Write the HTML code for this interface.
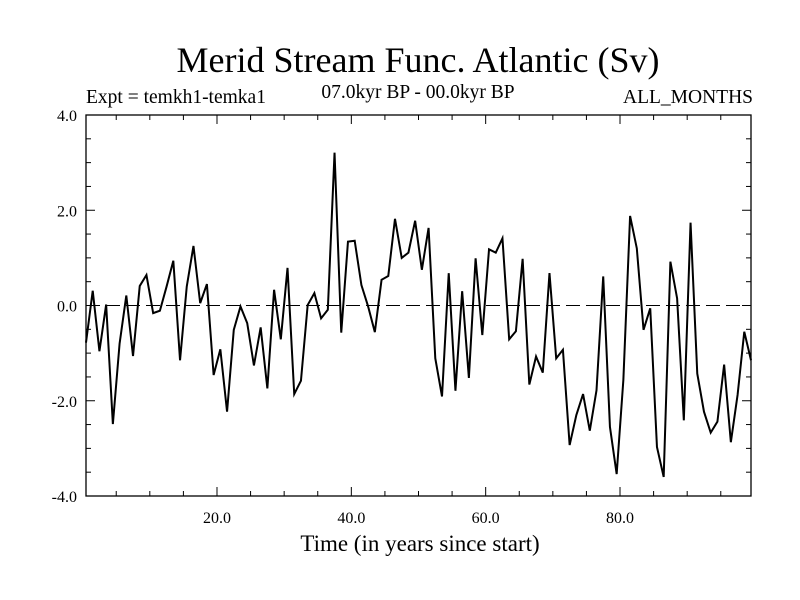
<!DOCTYPE html>
<html><head><meta charset="utf-8"><style>
body{margin:0;background:#fff}
svg{display:block}
text{font-family:"Liberation Serif",serif;fill:#000}
</style></head><body>
<svg id="chart" width="800" height="600" xmlns="http://www.w3.org/2000/svg">
<text x="418" y="72" font-size="36" text-anchor="middle">Merid Stream Func. Atlantic (Sv)</text>
<text x="86" y="103" font-size="19.5">Expt = temkh1-temka1</text>
<text x="418" y="98" font-size="19.5" text-anchor="middle">07.0kyr BP - 00.0kyr BP</text>
<text x="753" y="103" font-size="19.5" text-anchor="end">ALL_MONTHS</text>
<text x="420" y="551" font-size="23" text-anchor="middle">Time (in years since start)</text>
<g id="axes"></g>
<g id="plot"></g>
</svg>
<script>
const values=[-0.78,0.31,-0.96,0.02,-2.49,-0.80,0.21,-1.06,0.41,0.64,-0.16,-0.11,0.40,0.94,-1.15,0.40,1.25,0.05,0.45,-1.46,-0.92,-2.23,-0.51,-0.02,-0.37,-1.26,-0.46,-1.74,0.33,-0.71,0.79,-1.86,-1.58,0.01,0.26,-0.27,-0.09,3.21,-0.57,1.34,1.36,0.43,-0.02,-0.56,0.54,0.62,1.82,1.00,1.11,1.78,0.75,1.63,-1.11,-1.91,0.68,-1.79,0.30,-1.52,0.99,-0.62,1.18,1.11,1.41,-0.71,-0.54,0.98,-1.66,-1.07,-1.41,0.68,-1.11,-0.93,-2.93,-2.30,-1.86,-2.63,-1.78,0.61,-2.55,-3.54,-1.56,1.88,1.20,-0.51,-0.06,-2.97,-3.60,0.92,0.15,-2.41,1.74,-1.43,-2.23,-2.67,-2.44,-1.24,-2.87,-1.88,-0.55,-1.15];
const xTicks=[20,40,60,80];
const xTickLabels=["20.0","40.0","60.0","80.0"];
const yTicks=[-4,-2,0,2,4];
const yTickLabels=["-4.0","-2.0","0.0","2.0","4.0"];
const L=86,R=751,T=115,B=496,x0=0.5,x1=99.5,y0=-4,y1=4;
const sx=v=>L+(v-x0)/(x1-x0)*(R-L);
const sy=v=>B-(v-y0)/(y1-y0)*(B-T);
const NS="http://www.w3.org/2000/svg";
const axes=document.getElementById('axes'),plot=document.getElementById('plot');
function mk(tag,attrs,parent){const e=document.createElementNS(NS,tag);for(const k in attrs)e.setAttribute(k,attrs[k]);parent.appendChild(e);return e;}
const frame=mk('rect',{x:L,y:T,width:R-L,height:B-T,fill:'none',stroke:'#000','stroke-width':1.3},axes);


for(let v=5;v<100;v+=5){const major=v%20===0,len=major?9:5;
 const t=mk('line',{x1:sx(v),x2:sx(v),y1:B,y2:B-len,stroke:'#000'},axes);
 
 
 const t2=mk('line',{x1:sx(v),x2:sx(v),y1:T,y2:T+len,stroke:'#000'},axes);
 
 }
for(let v=-3.5;v<4;v+=0.5){const major=Math.abs(v%2)<1e-6,len=major?9:5;
 const t=mk('line',{x1:L,x2:L+len,y1:sy(v),y2:sy(v),stroke:'#000'},axes);
 
 
 const t2=mk('line',{x1:R,x2:R-len,y1:sy(v),y2:sy(v),stroke:'#000'},axes);
 
 }
xTicks.forEach((v,i)=>{const t=mk('text',{x:sx(v),y:B+27,'font-size':16,'text-anchor':'middle'},axes);t.textContent=xTickLabels[i];
 
 });
yTicks.forEach((v,i)=>{const t=mk('text',{x:L-9,y:sy(v)+6,'font-size':16,'text-anchor':'end'},axes);t.textContent=yTickLabels[i];
 
 });
const zl=mk('line',{x1:L,x2:R,y1:sy(0),y2:sy(0),stroke:'#000','stroke-dasharray':'14,6'},plot);


const pts=values.map((v,i)=>sx(i+0.5).toFixed(2)+','+sy(v).toFixed(2)).join(' ');
const ln=mk('polyline',{points:pts,fill:'none',stroke:'#000','stroke-width':2,'stroke-linejoin':'miter'},plot);


</script>
</body></html>
